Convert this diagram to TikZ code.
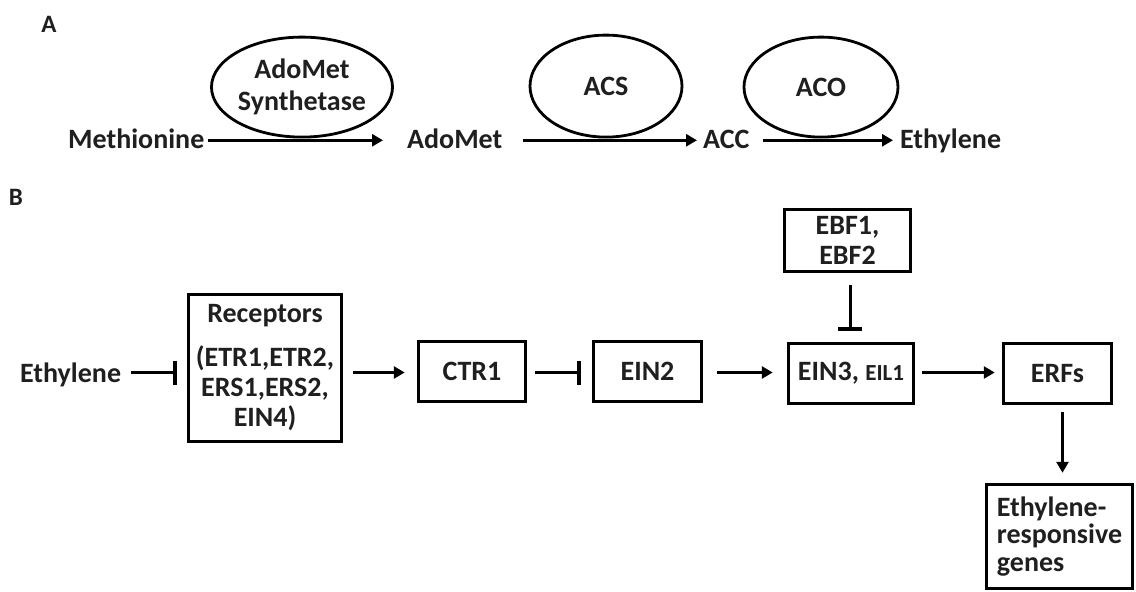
\documentclass[tikz,border=0pt]{standalone}
\usepackage{fontspec}
\setmainfont{Carlito}
\usetikzlibrary{arrows.meta,shapes.geometric,calc}
\begin{document}
\begin{tikzpicture}[x=1pt,y=-1pt,
  every node/.style={font=\fontsize{28}{30}\selectfont\bfseries, text=black!88},
  lbl/.style={inner sep=0pt},
  enz/.style={draw, ellipse, line width=2.8pt, minimum width=150pt, minimum height=100pt, inner sep=0pt, align=center, anchor=south, font=\fontsize{28}{32}\selectfont\bfseries},
  box/.style={draw, rectangle, line width=3.5pt, inner sep=0pt, align=center},
  act/.style={line width=3pt, -{Triangle[length=11pt,width=12pt]}},
  inh/.style={line width=3pt, -{Bar[width=24pt,line width=3.5pt]}}
]
\fill[white] (0,0) rectangle (1136,592);
\useasboundingbox (0,0) rectangle (1136,592);

% panel labels
\node[lbl, font=\fontsize{25}{27}\selectfont\bfseries] (A) at (49,24) {A};
\node[lbl, font=\fontsize{25}{27}\selectfont\bfseries] (B) at (16,197) {B};

% ---- Panel A ----
\node[lbl, anchor=base west] (meth) at (68,148) {Methionine};
\node[lbl, anchor=base west] (adomet) at (407,148) {AdoMet};
\node[lbl, anchor=base west] (acc) at (703,148) {ACC};
\node[lbl, anchor=base west] (ethA) at (900,148) {Ethylene};

\node[enz] (ams) at (302,138.5) {AdoMet\\Synthetase};
\node[enz, minimum width=152pt, minimum height=102pt] (acs) at (606,138.5) {ACS};
\node[enz, minimum width=154pt] (aco) at (821,138.5) {ACO};

\draw[act, shorten <=4pt, shorten >=24pt] ([yshift=-2pt]meth.east) -- ([yshift=-2pt]meth.east -| adomet.west);
\draw[act, shorten <=20pt, shorten >=6pt] ([yshift=-2pt]meth.east -| adomet.east) -- ([yshift=-2pt]meth.east -| acc.west);
\draw[act, shorten <=13pt, shorten >=7pt] ([yshift=-2pt]meth.east -| acc.east) -- ([yshift=-2pt]meth.east -| ethA.west);

% ---- Panel B ----
\node[lbl, anchor=base west] (ethB) at (20,382) {Ethylene};
\node[box, minimum width=153pt, minimum height=147pt] (recep) at (265,368)
  {Receptors\\[14pt](ETR1,ETR2,\\ERS1,ERS2,\\EIN4)};
\node[box, minimum width=107pt, minimum height=60pt] (ctr1) at (472,371.5) {CTR1};
\node[box, minimum width=108pt, minimum height=60pt] (ein2) at (647.5,371.5) {EIN2};
\node[box, minimum width=125pt, minimum height=60pt] (ein3) at (851,373.5) {EIN3, {\fontsize{23}{25}\selectfont EIL1}};
\node[box, minimum width=108pt, minimum height=60pt] (erfs) at (1057.5,373.5) {ERFs};
\node[box, minimum width=126pt, minimum height=62pt] (ebf) at (847.5,240.5) {EBF1,\\EBF2};
\node[box, minimum width=146pt, minimum height=104pt, align=left, font=\fontsize{28}{27.5}\selectfont\bfseries] (genes) at (1059.5,536.5) {Ethylene-\\responsive\\genes};

\coordinate (rowy) at (0,372.5);
\draw[inh, shorten <=10pt, shorten >=10pt] (ethB.east |- rowy) -- (recep.west |- rowy);
\draw[act, shorten <=10pt, shorten >=12pt] (recep.east |- rowy) -- (ctr1.west |- rowy);
\draw[inh, shorten <=8pt, shorten >=11pt] (ctr1.east |- rowy) -- (ein2.west |- rowy);
\draw[act, shorten <=14pt, shorten >=14pt] (ein2.east |- rowy) -- (ein3.west |- rowy);
\draw[act, shorten <=7pt, shorten >=7pt] (ein3.east |- rowy) -- (erfs.west |- rowy);
\draw[inh, shorten <=12pt, shorten >=11pt] ([xshift=2.5pt]ebf.south) -- ([xshift=2.5pt]ebf.south |- ein3.north);
\draw[act, shorten <=7pt, shorten >=10pt] ([xshift=5pt]erfs.south) -- ([xshift=5pt]erfs.south |- genes.north);
\end{tikzpicture}
\end{document}
